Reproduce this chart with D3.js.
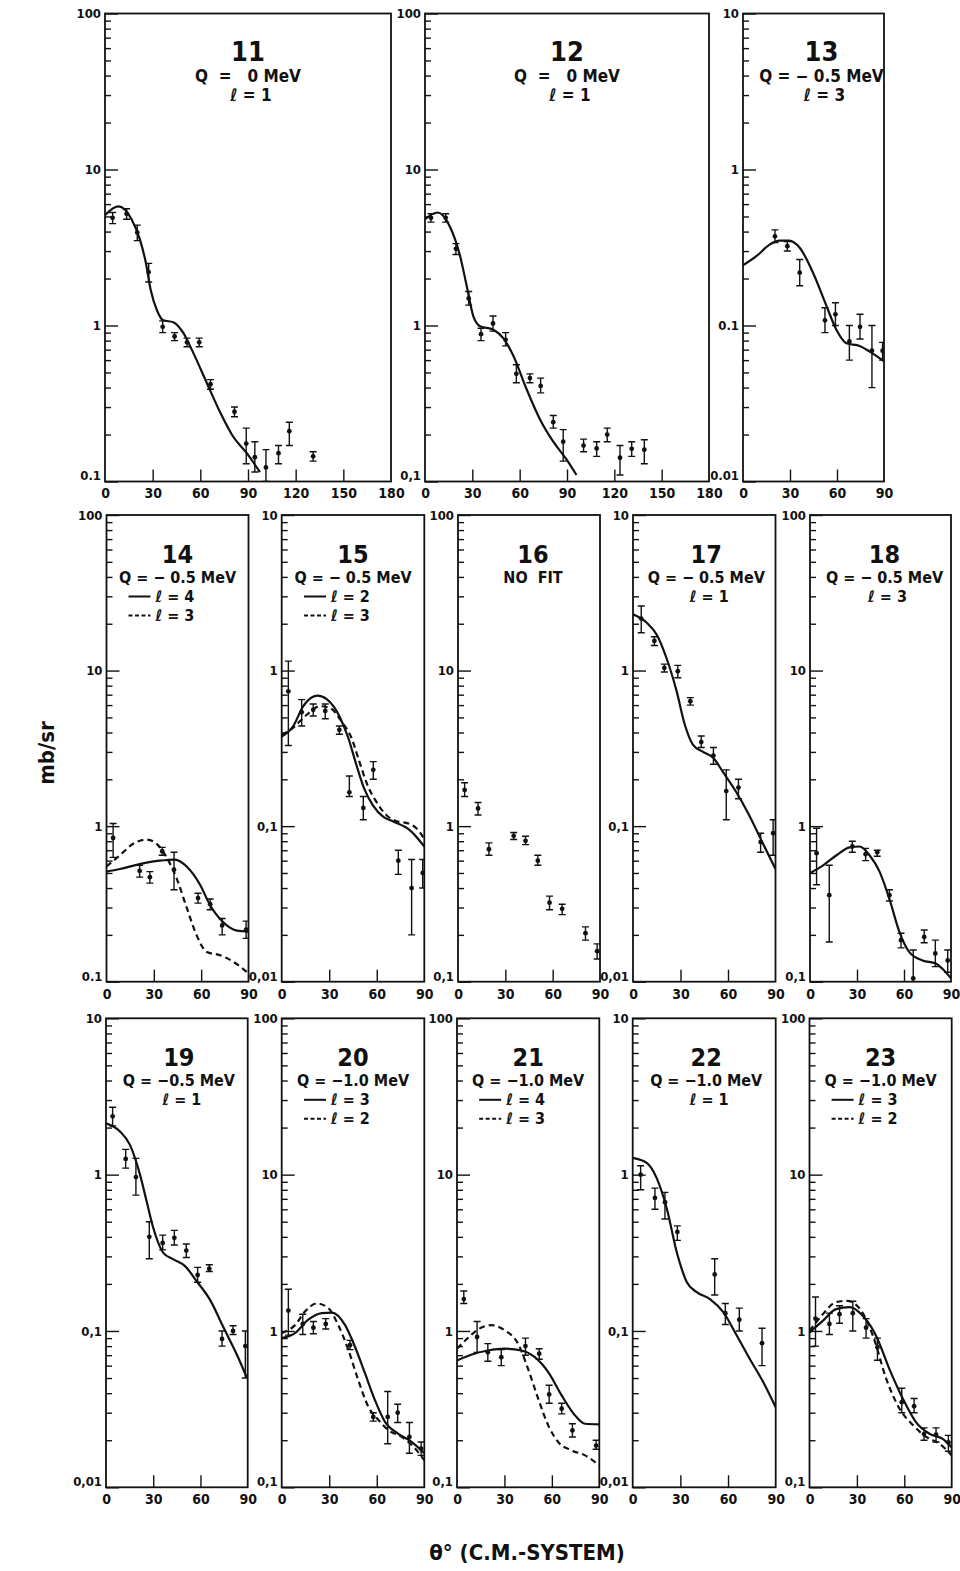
<!DOCTYPE html>
<html>
<head>
<meta charset="utf-8">
<script src="https://cdn.jsdelivr.net/npm/d3@7"></script>
<style>
  body { margin: 0; background: #fff; }
  svg { display: block; }
  text { font-family: "DejaVu Sans Condensed", "DejaVu Sans", sans-serif; fill: #111; }
</style>
</head>
<body>
<div id="vis"></div>
<script>

// Angle (deg), cross section (mb/sr), error low, error high
var data11 = [
  [4.8, 4.9, 4.5, 5.3], [13.6, 5.2, 4.8, 5.6], [20.3, 3.95, 3.5, 4.4], [27.5, 2.2, 1.9, 2.5],
  [36.3, 0.98, 0.9, 1.07], [43.8, 0.85, 0.8, 0.9], [51.6, 0.78, 0.73, 0.83], [59.3, 0.78, 0.73, 0.83],
  [66.4, 0.42, 0.39, 0.45], [81.5, 0.28, 0.26, 0.3], [88.9, 0.175, 0.13, 0.22], [94.3, 0.143, 0.115, 0.18],
  [101.3, 0.123, 0.1, 0.16], [109.2, 0.152, 0.13, 0.17], [116, 0.21, 0.17, 0.24], [131, 0.145, 0.135, 0.155]
];
var fit11 = [
  [0, 5.1], [8.4, 5.8], [16.7, 4.8], [22, 3.55], [25.8, 2.5], [28.7, 1.7], [33, 1.23], [36.7, 1.08],
  [43, 1.05], [49.2, 0.9], [55.5, 0.67], [64, 0.43], [72.3, 0.28], [80.5, 0.195], [89, 0.153], [97.5, 0.115]
];

var data12 = [
  [3.8, 4.9, 4.6, 5.2], [13.1, 4.9, 4.6, 5.2], [19.6, 3.1, 2.85, 3.35], [27.7, 1.49, 1.35, 1.65],
  [35.5, 0.88, 0.8, 0.96], [43.1, 1.03, 0.92, 1.15], [51.1, 0.81, 0.74, 0.9], [57.9, 0.49, 0.43, 0.56],
  [66.5, 0.46, 0.43, 0.49], [73.3, 0.41, 0.37, 0.46], [81.3, 0.24, 0.22, 0.265], [87.6, 0.18, 0.135, 0.215],
  [100.5, 0.17, 0.155, 0.187], [108.8, 0.163, 0.145, 0.18], [115.5, 0.2, 0.18, 0.22], [123.6, 0.142, 0.11, 0.17],
  [131, 0.162, 0.145, 0.18], [139, 0.16, 0.13, 0.185]
];
var fit12 = [
  [0, 4.8], [8, 5.3], [15.8, 4.3], [22.2, 2.8], [26.4, 1.8], [30.6, 1.15], [34.9, 0.99], [43.3, 0.94],
  [49.6, 0.83], [56, 0.64], [64.4, 0.39], [72.9, 0.25], [81.3, 0.18], [89.8, 0.138], [96, 0.11]
];

var data13 = [
  [20.4, 0.373, 0.34, 0.41], [28.3, 0.322, 0.3, 0.345], [36.2, 0.218, 0.18, 0.265], [52.3, 0.108, 0.09, 0.13],
  [59, 0.118, 0.1, 0.14], [67.9, 0.079, 0.06, 0.1], [74.7, 0.098, 0.082, 0.118], [82.3, 0.069, 0.04, 0.1],
  [89.1, 0.069, 0.06, 0.078]
];
var fit13 = [
  [0, 0.243], [8.5, 0.278], [17, 0.33], [23.4, 0.35], [29.4, 0.35], [36.2, 0.315], [44.7, 0.218],
  [53.2, 0.134], [59.6, 0.094], [66, 0.077], [74.5, 0.074], [80.9, 0.068], [90, 0.059]
];

var data14 = [
  [4.2, 0.84, 0.63, 1.04], [21, 0.515, 0.47, 0.56], [27.5, 0.47, 0.43, 0.51], [35.3, 0.69, 0.65, 0.73],
  [42.8, 0.525, 0.39, 0.68], [58, 0.345, 0.32, 0.37], [65.7, 0.315, 0.29, 0.34], [73.3, 0.23, 0.2, 0.255],
  [88.5, 0.216, 0.19, 0.245]
];
var fit14Solid = [
  [0, 0.51], [8.5, 0.53], [21, 0.57], [33.8, 0.6], [43.4, 0.61], [50.8, 0.55], [59.3, 0.42], [65.7, 0.31],
  [74.2, 0.24], [82.7, 0.213], [90, 0.21]
];
var fit14Dashed = [
  [0, 0.55], [8.5, 0.65], [16.9, 0.77], [25.4, 0.82], [31.8, 0.77], [38.1, 0.63], [44.5, 0.46], [50.8, 0.3],
  [57.2, 0.198], [63.6, 0.155], [72, 0.148], [80.5, 0.134], [90, 0.113]
];

var data15 = [
  [4.2, 0.736, 0.33, 1.15], [12.6, 0.54, 0.44, 0.65], [19.9, 0.56, 0.51, 0.61], [27.5, 0.55, 0.49, 0.61],
  [36.4, 0.416, 0.39, 0.44], [42.7, 0.165, 0.155, 0.21], [51.5, 0.131, 0.11, 0.155], [57.8, 0.23, 0.2, 0.26],
  [73.6, 0.06, 0.049, 0.07], [82, 0.04, 0.02, 0.061], [89, 0.05, 0.04, 0.061]
];
var fit15Solid = [
  [0, 0.377], [7.3, 0.44], [13.6, 0.59], [22.5, 0.69], [28.4, 0.655], [36.8, 0.5], [42, 0.37], [47, 0.25],
  [52, 0.175], [57.8, 0.135], [64, 0.115], [70.4, 0.107], [81, 0.094], [90, 0.074]
];
var fit15Dashed = [
  [0, 0.386], [7.3, 0.43], [15.8, 0.52], [24.2, 0.59], [30.5, 0.575], [37.8, 0.47], [44, 0.37], [49, 0.26],
  [54, 0.185], [60, 0.142], [66, 0.118], [72, 0.108], [80, 0.104], [85, 0.097], [90, 0.083]
];

var data16 = [
  [4.2, 1.71, 1.55, 1.9], [12.7, 1.3, 1.18, 1.42], [19.6, 0.71, 0.65, 0.78], [35.3, 0.867, 0.82, 0.91],
  [42.8, 0.805, 0.76, 0.86], [50.6, 0.6, 0.56, 0.65], [58, 0.322, 0.29, 0.355], [66, 0.294, 0.27, 0.315],
  [80.8, 0.205, 0.185, 0.225], [88.2, 0.157, 0.14, 0.175]
];

var data17 = [
  [5.2, 2.16, 1.75, 2.6], [13.5, 1.55, 1.45, 1.65], [19.8, 1.04, 0.98, 1.1], [28.3, 0.99, 0.9, 1.08],
  [36.2, 0.635, 0.6, 0.67], [43.1, 0.347, 0.32, 0.38], [50.8, 0.284, 0.25, 0.32], [58.9, 0.168, 0.11, 0.23],
  [66.6, 0.177, 0.15, 0.2], [80.6, 0.079, 0.068, 0.09], [88.5, 0.09, 0.065, 0.11]
];
var fit17 = [
  [0, 2.3], [8.7, 2.03], [15, 1.7], [21.2, 1.2], [27.5, 0.74], [32.7, 0.45], [37.9, 0.333], [44.2, 0.3],
  [50.5, 0.276], [56.7, 0.224], [65, 0.167], [73.3, 0.118], [81.6, 0.079], [90, 0.053]
];

var data18 = [
  [4.2, 0.67, 0.42, 0.97], [12.3, 0.36, 0.18, 0.56], [27, 0.74, 0.68, 0.8], [35.5, 0.66, 0.6, 0.72],
  [42.9, 0.68, 0.64, 0.7], [50.7, 0.36, 0.33, 0.39], [58.1, 0.185, 0.165, 0.205], [65.9, 0.105, 0.087, 0.16],
  [72.9, 0.194, 0.178, 0.215], [80, 0.152, 0.125, 0.185], [87.9, 0.137, 0.115, 0.16]
];
var fit18 = [
  [0, 0.5], [8.4, 0.56], [16.9, 0.65], [25.3, 0.73], [31.7, 0.74], [38, 0.65], [44.4, 0.51], [50.7, 0.34],
  [57, 0.21], [63.4, 0.155], [71.8, 0.137], [80.3, 0.131], [84.5, 0.121], [90, 0.105]
];

var data19 = [
  [4.2, 2.36, 2.05, 2.7], [12.5, 1.26, 1.1, 1.45], [19, 0.965, 0.74, 1.27], [27.5, 0.4, 0.29, 0.5],
  [36, 0.366, 0.33, 0.41], [43.4, 0.394, 0.355, 0.44], [51, 0.327, 0.295, 0.36], [58.2, 0.228, 0.205, 0.255],
  [65.6, 0.25, 0.24, 0.265], [73.7, 0.089, 0.08, 0.1], [80.7, 0.1, 0.095, 0.108], [88.5, 0.08, 0.05, 0.1]
];
var fit19 = [
  [0, 2.13], [8.9, 1.89], [15.2, 1.55], [21.6, 1.0], [25.8, 0.675], [30, 0.457], [36.4, 0.316], [42.8, 0.287],
  [50.2, 0.26], [57.6, 0.208], [66.1, 0.158], [74.5, 0.106], [83, 0.071], [89.4, 0.0505]
];

var data20 = [
  [4.2, 1.35, 0.94, 1.85], [13.3, 1.11, 0.95, 1.28], [20, 1.05, 0.96, 1.15], [27.8, 1.11, 1.03, 1.2],
  [43.1, 0.81, 0.76, 0.87], [57.8, 0.282, 0.265, 0.3], [66.9, 0.282, 0.19, 0.41], [73.2, 0.3, 0.26, 0.34],
  [80.6, 0.21, 0.165, 0.26], [88, 0.177, 0.16, 0.195]
];
var fit20Solid = [
  [0, 0.9], [8.4, 0.97], [16.8, 1.18], [25.3, 1.3], [31.6, 1.31], [40, 1.09], [46.3, 0.79], [52.6, 0.535],
  [58.9, 0.36], [65.2, 0.262], [73.6, 0.22], [82, 0.195], [90, 0.165]
];
var fit20Dashed = [
  [0, 0.97], [8.4, 1.09], [14.7, 1.33], [22.1, 1.5], [29.4, 1.4], [35.7, 1.09], [42, 0.76], [48.3, 0.485],
  [54.7, 0.327], [61, 0.27], [67.3, 0.232], [75.8, 0.21], [84.2, 0.177], [90, 0.149]
];

var data21 = [
  [4.3, 1.6, 1.5, 1.8], [12.7, 0.915, 0.73, 1.15], [19.5, 0.73, 0.64, 0.83], [28, 0.68, 0.6, 0.76],
  [43.3, 0.8, 0.7, 0.9], [52, 0.716, 0.66, 0.77], [58.3, 0.393, 0.345, 0.45], [66.2, 0.318, 0.295, 0.345],
  [73, 0.231, 0.21, 0.255], [88, 0.185, 0.175, 0.2]
];
var fit21Solid = [
  [0, 0.648], [8.9, 0.705], [19.5, 0.75], [30.1, 0.77], [40.8, 0.75], [49.2, 0.68], [57.7, 0.546],
  [66.2, 0.387], [74.7, 0.288], [81, 0.255], [90, 0.253]
];
var fit21Dashed = [
  [0, 0.77], [6.8, 0.9], [13.1, 1.02], [21.7, 1.09], [30.1, 1.01], [38.6, 0.83], [45, 0.57], [51.3, 0.37],
  [57.7, 0.249], [64, 0.195], [72.5, 0.172], [81, 0.16], [90, 0.138]
];

var data22 = [
  [5, 1.0, 0.8, 1.14], [14, 0.71, 0.6, 0.82], [20.3, 0.667, 0.52, 0.77], [28.1, 0.43, 0.38, 0.47],
  [51.6, 0.23, 0.17, 0.29], [58.3, 0.13, 0.11, 0.15], [67.1, 0.118, 0.1, 0.14], [81.4, 0.0835, 0.06, 0.104]
];
var fit22 = [
  [0, 1.28], [8.8, 1.19], [15.1, 0.95], [21.4, 0.61], [27.7, 0.32], [34, 0.206], [40.3, 0.177], [48.6, 0.16],
  [57, 0.132], [65.4, 0.094], [73.8, 0.066], [82.2, 0.047], [90, 0.0325]
];

var data23 = [
  [3.8, 1.2, 0.8, 1.65], [12.6, 1.11, 0.95, 1.3], [19, 1.28, 1.12, 1.45], [27.4, 1.3, 1.0, 1.55],
  [35.8, 1.05, 0.9, 1.2], [43, 0.787, 0.65, 0.9], [58.4, 0.35, 0.3, 0.43], [66.2, 0.33, 0.3, 0.37],
  [72.5, 0.219, 0.2, 0.24], [80.1, 0.217, 0.195, 0.24], [87.9, 0.194, 0.17, 0.215]
];
var fit23Solid = [
  [0, 0.98], [8.4, 1.16], [16.8, 1.38], [25.3, 1.42], [33.7, 1.25], [42.2, 0.93], [50.6, 0.57], [59, 0.37],
  [67.5, 0.26], [75.9, 0.22], [84.3, 0.204], [90, 0.18]
];
var fit23Dashed = [
  [0, 1.0], [8.4, 1.28], [16.8, 1.53], [23.6, 1.56], [32, 1.38], [40.2, 0.93], [48.7, 0.49], [57.1, 0.317],
  [65.5, 0.25], [73.9, 0.21], [82.3, 0.19], [90, 0.16]
];

// Tick labels
var xTicks180 = [0, 30, 60, 90, 120, 150, 180];
var xTicks90 = [0, 30, 60, 90];
var yLabels01 = ['0.1', '1', '10', '100'];
var yLabels01c = ['0,1', '1', '10', '100'];
var yLabels001 = ['0.01', '0.1', '1', '10'];
var yLabels001c = ['0,01', '0,1', '1', '10'];

(function () {

  'use strict';

  var width = 960;
  var height = 1571;

  var rows = [
    { top: 13.5, bottom: 481.5 },
    { top: 515, bottom: 981.7 },
    { top: 1018.3, bottom: 1487.3 }
  ];

  var panels = [
    { id: '11', row: 0, left: 105, right: 391, xTicks: xTicks180, yMin: 0.1, yLabels: yLabels01,
      q: 'Q  =   0 MeV', lines: [[null, 'ℓ = 1']], fits: [[fit11, false]], data: data11, tx: 0 },
    { id: '12', row: 0, left: 425, right: 709, xTicks: xTicks180, yMin: 0.1, yLabels: yLabels01c,
      q: 'Q  =   0 MeV', lines: [[null, 'ℓ = 1']], fits: [[fit12, false]], data: data12, tx: 0 },
    { id: '13', row: 0, left: 743, right: 884, xTicks: xTicks90, yMin: 0.01, yLabels: yLabels001,
      q: 'Q = − 0.5 MeV', lines: [[null, 'ℓ = 3']], fits: [[fit13, false]], data: data13, tx: 8 },
    { id: '14', row: 1, left: 106.5, right: 248.5, xTicks: xTicks90, yMin: 0.1, yLabels: yLabels01,
      q: 'Q = − 0.5 MeV', lines: [['solid', 'ℓ = 4'], ['dashed', 'ℓ = 3']],
      fits: [[fit14Solid, false], [fit14Dashed, true]], data: data14, tx: 0 },
    { id: '15', row: 1, left: 281.7, right: 424.3, xTicks: xTicks90, yMin: 0.01, yLabels: yLabels001c,
      q: 'Q = − 0.5 MeV', lines: [['solid', 'ℓ = 2'], ['dashed', 'ℓ = 3']],
      fits: [[fit15Solid, false], [fit15Dashed, true]], data: data15, tx: 0 },
    { id: '16', row: 1, left: 458, right: 600, xTicks: xTicks90, yMin: 0.1, yLabels: yLabels01c,
      q: 'NO  FIT', lines: [], fits: [], data: data16, tx: 4 },
    { id: '17', row: 1, left: 633, right: 775.5, xTicks: xTicks90, yMin: 0.01, yLabels: yLabels001c,
      q: 'Q = − 0.5 MeV', lines: [[null, 'ℓ = 1']], fits: [[fit17, false]], data: data17, tx: 2 },
    { id: '18', row: 1, left: 810, right: 951, xTicks: xTicks90, yMin: 0.1, yLabels: yLabels01c,
      q: 'Q = − 0.5 MeV', lines: [[null, 'ℓ = 3']], fits: [[fit18, false]], data: data18, tx: 4 },
    { id: '19', row: 2, left: 106, right: 247.7, xTicks: xTicks90, yMin: 0.01, yLabels: yLabels001c,
      q: 'Q = −0.5 MeV', lines: [[null, 'ℓ = 1']], fits: [[fit19, false]], data: data19, tx: 2 },
    { id: '20', row: 2, left: 281.7, right: 424.3, xTicks: xTicks90, yMin: 0.1, yLabels: yLabels01c,
      q: 'Q = −1.0 MeV', lines: [['solid', 'ℓ = 3'], ['dashed', 'ℓ = 2']],
      fits: [[fit20Solid, false], [fit20Dashed, true]], data: data20, tx: 0 },
    { id: '21', row: 2, left: 457, right: 599.3, xTicks: xTicks90, yMin: 0.1, yLabels: yLabels01c,
      q: 'Q = −1.0 MeV', lines: [['solid', 'ℓ = 4'], ['dashed', 'ℓ = 3']],
      fits: [[fit21Solid, false], [fit21Dashed, true]], data: data21, tx: 0 },
    { id: '22', row: 2, left: 632.7, right: 775.7, xTicks: xTicks90, yMin: 0.01, yLabels: yLabels001c,
      q: 'Q = −1.0 MeV', lines: [[null, 'ℓ = 1']], fits: [[fit22, false]], data: data22, tx: 2 },
    { id: '23', row: 2, left: 809.5, right: 951.7, xTicks: xTicks90, yMin: 0.1, yLabels: yLabels01c,
      q: 'Q = −1.0 MeV', lines: [['solid', 'ℓ = 3'], ['dashed', 'ℓ = 2']],
      fits: [[fit23Solid, false], [fit23Dashed, true]], data: data23, tx: 0 }
  ];

  var svg = d3.select('#vis')
    .append('svg')
      .attr('width', width)
      .attr('height', height);

  svg.append('rect')
      .attr('width', width)
      .attr('height', height)
      .attr('fill', '#fff');

  panels.forEach(function (p) {
    drawPanel(p);
  });

  svg.append('text')
      .attr('transform', 'translate(54,753) rotate(-90)')
      .attr('text-anchor', 'middle')
      .attr('font-size', 22)
      .attr('font-weight', 'bold')
      .text('mb/sr');

  svg.append('text')
      .attr('x', 527)
      .attr('y', 1560)
      .attr('text-anchor', 'middle')
      .attr('font-size', 22)
      .attr('font-weight', 'bold')
      .text('θ° (C.M.-SYSTEM)');

  function isDecade(v) {
    var l = Math.log10(v);
    return Math.abs(l - Math.round(l)) < 1e-6;
  }

  function drawPanel(p) {

    var row = rows[p.row];
    var xMax = p.xTicks[p.xTicks.length - 1];
    var cx = (p.left + p.right) / 2 + p.tx;
    var first = p.row === 0;

    var x = d3.scaleLinear()
      .domain([0, xMax])
      .range([p.left, p.right]);

    var y = d3.scaleLog()
      .domain([p.yMin, p.yMin * 1000])
      .range([row.bottom, row.top]);

    var g = svg.append('g');

    g.append('clipPath')
        .attr('id', 'clip' + p.id)
      .append('rect')
        .attr('x', p.left)
        .attr('y', row.top)
        .attr('width', p.right - p.left)
        .attr('height', row.bottom - row.top);

    var all = y.ticks();
    var majors = all.filter(isDecade);
    var minors = all.filter(function (v) { return !isDecade(v); });

    var minorAxis = g.append('g')
        .attr('transform', 'translate(' + p.left + ',0)')
        .call(d3.axisLeft(y).tickValues(minors).tickSize(-6).tickFormat(function () { return ''; }));

    var majorAxis = g.append('g')
        .attr('transform', 'translate(' + p.left + ',0)')
        .call(d3.axisLeft(y).tickValues(majors).tickSize(-13).tickPadding(4)
          .tickFormat(function (d, i) { return p.yLabels[i]; }));

    // Lowest label sits on the frame bottom, clear of the angle labels
    majorAxis.selectAll('text')
        .filter(function (d, i) { return i === 0; })
        .attr('dy', '-0.12em');

    var xInner = p.xTicks.slice(1, -1);

    var xTickAxis = g.append('g')
        .attr('transform', 'translate(0,' + row.bottom + ')')
        .call(d3.axisBottom(x).tickValues(xInner).tickSize(-12).tickFormat(function () { return ''; }));

    var xLabelAxis = g.append('g')
        .attr('transform', 'translate(0,' + row.bottom + ')')
        .call(d3.axisBottom(x).tickValues(p.xTicks).tickSize(0).tickPadding(7));

    [minorAxis, majorAxis, xTickAxis, xLabelAxis].forEach(function (a) {
      a.attr('font-family', null).attr('font-size', 13).attr('font-weight', 'bold');
      a.select('.domain').remove();
      a.selectAll('line').attr('stroke', '#111').attr('stroke-width', 1.4);
    });
    xLabelAxis.attr('font-size', 14);

    var line = d3.line()
      .x(function (d) { return x(d[0]); })
      .y(function (d) { return y(d[1]); })
      .curve(d3.curveMonotoneX);

    var plot = g.append('g')
        .attr('clip-path', 'url(#clip' + p.id + ')');

    plot.selectAll('path.fit')
        .data(p.fits)
        .enter()
      .append('path')
        .attr('class', 'fit')
        .attr('d', function (f) { return line(f[0]); })
        .attr('fill', 'none')
        .attr('stroke', '#111')
        .attr('stroke-width', 2.2)
        .attr('stroke-dasharray', function (f) { return f[1] ? '6,4' : null; });

    var yClamp = function (v) {
      return y(Math.max(p.yMin, Math.min(p.yMin * 1000, v)));
    };

    var bars = plot.selectAll('g.pt')
        .data(p.data)
        .enter()
      .append('g')
        .attr('class', 'pt')
        .attr('stroke', '#111')
        .attr('stroke-width', 1.4);

    bars.append('line')
        .attr('x1', function (d) { return x(d[0]); })
        .attr('x2', function (d) { return x(d[0]); })
        .attr('y1', function (d) { return yClamp(d[2]); })
        .attr('y2', function (d) { return yClamp(d[3]); });

    bars.append('line')
        .attr('x1', function (d) { return x(d[0]) - 3.5; })
        .attr('x2', function (d) { return x(d[0]) + 3.5; })
        .attr('y1', function (d) { return yClamp(d[2]); })
        .attr('y2', function (d) { return yClamp(d[2]); });

    bars.append('line')
        .attr('x1', function (d) { return x(d[0]) - 3.5; })
        .attr('x2', function (d) { return x(d[0]) + 3.5; })
        .attr('y1', function (d) { return yClamp(d[3]); })
        .attr('y2', function (d) { return yClamp(d[3]); });

    bars.append('circle')
        .attr('cx', function (d) { return x(d[0]); })
        .attr('cy', function (d) { return y(d[1]); })
        .attr('r', 2.4)
        .attr('fill', '#111')
        .attr('stroke', 'none');

    g.append('rect')
        .attr('x', p.left)
        .attr('y', row.top)
        .attr('width', p.right - p.left)
        .attr('height', row.bottom - row.top)
        .attr('fill', 'none')
        .attr('stroke', '#111')
        .attr('stroke-width', 1.8);

    // Panel caption
    var top = row.top;
    var capSize = first ? 17 : 16;

    g.append('text')
        .attr('x', cx)
        .attr('y', top + 47.5)
        .attr('text-anchor', 'middle')
        .attr('font-size', first ? 27 : 25)
        .attr('font-weight', 'bold')
        .text(p.id);

    g.append('text')
        .attr('x', cx)
        .attr('y', top + 68)
        .attr('text-anchor', 'middle')
        .attr('font-size', capSize)
        .attr('font-weight', 'bold')
        .style('white-space', 'pre')
        .text(p.q);

    p.lines.forEach(function (l, i) {

      var base = top + 87 + i * 19;

      if (l[0] === null) {
        g.append('text')
            .attr('x', cx + 3)
            .attr('y', base)
            .attr('text-anchor', 'middle')
            .attr('font-size', capSize)
            .attr('font-weight', 'bold')
            .style('white-space', 'pre')
            .text(l[1]);
        return;
      }

      g.append('line')
          .attr('x1', cx - 49)
          .attr('x2', cx - 27)
          .attr('y1', base - 5.5)
          .attr('y2', base - 5.5)
          .attr('stroke', '#111')
          .attr('stroke-width', 2)
          .attr('stroke-dasharray', l[0] === 'dashed' ? '4,2.5' : null);

      g.append('text')
          .attr('x', cx - 22)
          .attr('y', base)
          .attr('font-size', capSize)
          .attr('font-weight', 'bold')
          .text(l[1]);
    });
  }
})();
</script>
</body>
</html>
